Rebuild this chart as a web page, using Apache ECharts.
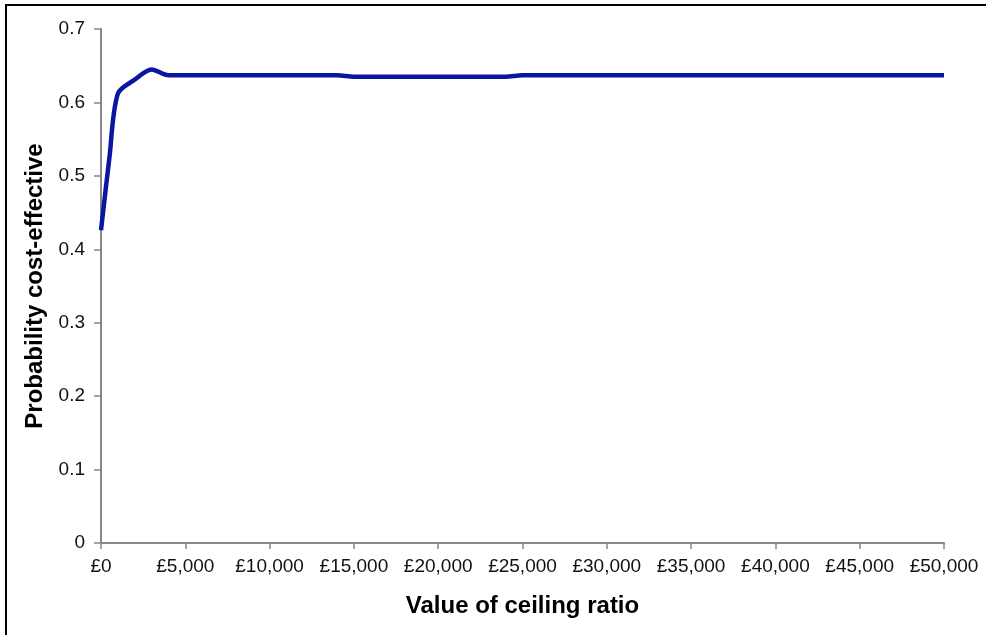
<!DOCTYPE html>
<html><head><meta charset="utf-8">
<script src="https://cdn.jsdelivr.net/npm/echarts@6/dist/echarts.min.js"></script>
<style>
html,body{margin:0;padding:0;background:#fff;}
#frame{position:absolute;left:5px;top:4px;width:990px;height:640px;border-left:2px solid #000;border-top:2px solid #000;}
#chart{position:absolute;left:0;top:0;width:986px;height:635px;}
</style></head>
<body>
<div id="frame"></div>
<div id="chart"></div>
<script>
const ceilingRatio = [0, 500, 1000, 2000, 3000, 4000, 5000, 10000, 14000, 15000, 20000, 24000, 25000, 30000, 35000, 40000, 45000, 50000];
const probCostEffective = [0.426, 0.525, 0.612, 0.631, 0.645, 0.637, 0.637, 0.637, 0.637, 0.635, 0.635, 0.635, 0.637, 0.637, 0.637, 0.637, 0.637, 0.637];
const yTitle = 'Probability cost-effective';
const xTitle = 'Value of ceiling ratio';

const chart = echarts.init(document.getElementById('chart'), null, {renderer:'canvas'});
const font = 'Liberation Sans, Arial, sans-serif';
chart.setOption({
  animation: false,
  backgroundColor: 'transparent',
  grid: {left: 101, right: 42, top: 29, bottom: 92, containLabel: false},
  xAxis: {
    type: 'value', min: 0, max: 50000, interval: 5000,
    name: xTitle, nameLocation: 'middle', nameGap: 51,
    nameTextStyle: {fontFamily: font, fontSize: 24, fontWeight: 'bold', color: '#000'},
    axisLine: {lineStyle: {color: '#888', width: 2}},
    axisTick: {show: true, length: 6, lineStyle: {color: '#888', width: 1.5}},
    axisLabel: {fontFamily: font, fontSize: 19, color: '#111', margin: 14,
      formatter: v => '£' + v.toLocaleString('en-GB')},
    splitLine: {show: false}
  },
  yAxis: {
    type: 'value', min: 0, max: 0.7, interval: 0.1,
    name: yTitle, nameLocation: 'middle', nameGap: 51, nameRotate: 90,
    nameTextStyle: {fontFamily: font, fontSize: 24, fontWeight: 'bold', color: '#000'},
    axisLine: {show: true, lineStyle: {color: '#888', width: 2}},
    axisTick: {show: true, length: 7, lineStyle: {color: '#888', width: 1.5}},
    axisLabel: {fontFamily: font, fontSize: 19, color: '#111', margin: 16,
      formatter: v => v === 0 ? '0' : v.toFixed(1)},
    splitLine: {show: false}
  },
  series: [{
    type: 'line',
    data: ceilingRatio.map((x, i) => [x, probCostEffective[i]]),
    smooth: 0.3,
    showSymbol: false,
    lineStyle: {color: '#0a16a0', width: 4.5}
  }]
});
</script>
</body></html>
